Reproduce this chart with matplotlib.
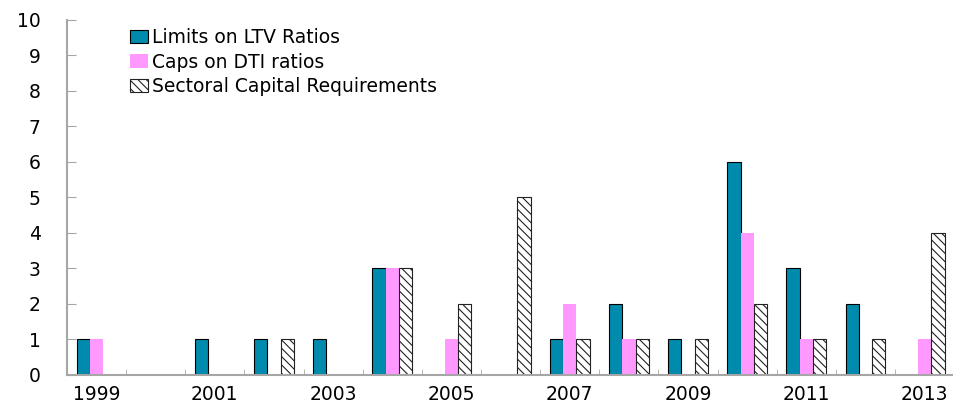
import numpy as np
import matplotlib.pyplot as plt

years = list(range(1999, 2014))
ltv = [1, 0, 1, 1, 1, 3, 0, 0, 1, 2, 1, 6, 3, 2, 0]
dti = [1, 0, 0, 0, 0, 3, 1, 0, 2, 1, 0, 4, 1, 0, 1]
scr = [0, 0, 0, 1, 0, 3, 2, 5, 1, 1, 1, 2, 1, 1, 4]
labels = ['Limits on LTV Ratios', 'Caps on DTI ratios', 'Sectoral Capital Requirements']

fig = plt.figure(figsize=(9.54, 4.04), dpi=100)
ax = fig.add_axes([0.0702, 0.0718, 0.93, 0.8787])

x = np.arange(len(years))
w = 0.225
ax.bar(x - w, ltv, w, color='#008AAD', edgecolor='black', linewidth=0.8, label=labels[0])
ax.bar(x, dti, w, color='#FF99FF', edgecolor='none', label=labels[1])
plt.rcParams['hatch.linewidth'] = 0.8
ax.bar(x + w, scr, w, color='white', edgecolor='#222222', hatch='\\\\\\\\', linewidth=0.8, label=labels[2])

ax.set_xlim(-0.5, len(years) - 0.5)
ax.set_ylim(0, 10)
ax.set_yticks(range(0, 11))

odd = [i for i, y in enumerate(years) if y % 2 == 1]
ax.set_xticks(odd)
ax.set_xticklabels([str(years[i]) for i in odd])
ax.set_xticks(np.arange(-0.5, len(years)), minor=True)
ax.tick_params(axis='x', which='major', length=0, pad=7, labelsize=13.5)
ax.tick_params(axis='x', which='minor', direction='in', length=4.5, color='#A6A6A6')
ax.tick_params(axis='y', direction='in', length=6.5, color='#A6A6A6', pad=19, labelsize=13.5)

for s in ['top', 'right']:
    ax.spines[s].set_visible(False)
for s in ['left', 'bottom']:
    ax.spines[s].set_color('#A6A6A6')
    ax.spines[s].set_linewidth(1.5)

ax.legend(loc='upper left', bbox_to_anchor=(0.052, 1.025), frameon=False, fontsize=13.5,
          handlelength=0.95, handleheight=0.7, handletextpad=0.25, labelspacing=0.3)

fig.savefig('out.png', dpi=100)
